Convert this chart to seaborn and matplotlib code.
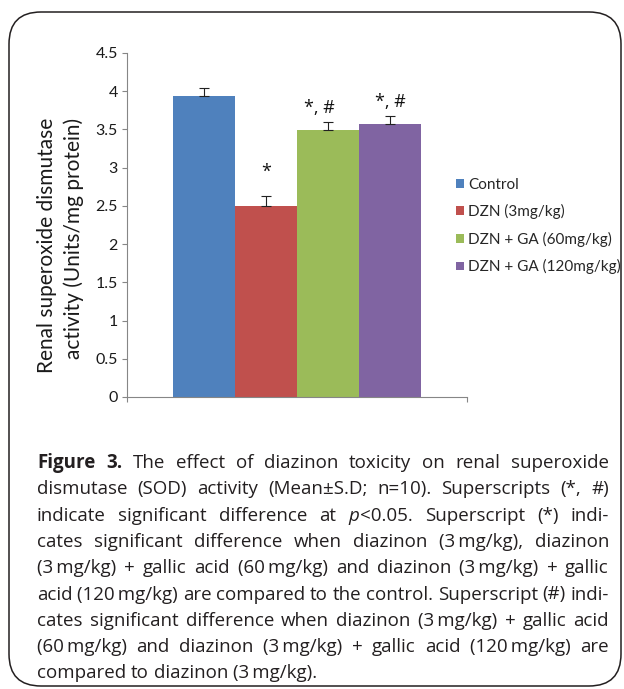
import re
import numpy as np
import pandas as pd
import matplotlib
matplotlib.use("Agg")
import matplotlib.pyplot as plt
import seaborn as sns
from matplotlib.patches import FancyBboxPatch

# Data
groups = ["Control", "DZN (3mg/kg)", "DZN + GA (60mg/kg)", "DZN + GA (120mg/kg)"]
sod_mean = [3.94, 2.50, 3.49, 3.57]
sod_sd = [0.10, 0.13, 0.11, 0.11]
sig_labels = ["", "*", "*, #", "*, #"]
colors = ["#4F81BD", "#C0504D", "#9BBB59", "#8064A2"]
y_ticks = [0, 0.5, 1, 1.5, 2, 2.5, 3, 3.5, 4, 4.5]
y_tick_labels = ["0", "0.5", "1", "1.5", "2", "2.5", "3", "3.5", "4", "4.5"]

caption_lines = [
    "**Figure** **3.** The effect of diazinon toxicity on renal superoxide",
    "dismutase (SOD) activity (Mean\u00b1S.D; n=10). Superscripts (*, #)",
    "indicate significant difference at _p_<0.05. Superscript (*) indi-",
    "cates significant difference when diazinon (3\u2009mg/kg), diazinon",
    "(3\u2009mg/kg) + gallic acid (60\u2009mg/kg) and diazinon (3\u2009mg/kg) + gallic",
    "acid (120\u2009mg/kg) are compared to the control. Superscript (#) indi-",
    "cates significant difference when diazinon (3\u2009mg/kg) + gallic acid",
    "(60\u2009mg/kg) and diazinon (3\u2009mg/kg) + gallic acid (120\u2009mg/kg) are",
    "compared to diazinon (3\u2009mg/kg).",
]

W, H = 624, 689
chart_font = ["Lato", "DejaVu Sans"]
caption_font = ["Open Sans", "DejaVu Sans"]

sns.set_style("white")
plt.rcParams["font.family"] = chart_font

fig = plt.figure(figsize=(W / 100, H / 100), dpi=100)
ax = fig.add_axes([127 / W, 1 - 397 / H, 340 / W, 344 / H])

df = pd.DataFrame({"x": [""] * len(groups), "group": groups, "value": sod_mean})
sns.barplot(data=df, x="x", y="value", hue="group", hue_order=groups,
            palette=colors, saturation=1, width=0.73, errorbar=None,
            linewidth=0, ax=ax)

# error bars (upper only) and significance marks
centers = [c.patches[0].get_x() + c.patches[0].get_width() / 2 for c in ax.containers]
ax.errorbar(centers, sod_mean, yerr=[np.zeros(len(sod_sd)), sod_sd], fmt="none",
            ecolor="#222222", elinewidth=0.8, capsize=3.5, capthick=0.8)
label_offsets = [(0, 0), (0, 14), (-6, 6), (0, 6)]
for cx, m, s, lab, off in zip(centers, sod_mean, sod_sd, sig_labels, label_offsets):
    if lab:
        ax.annotate(lab, (cx, m + s), xytext=off, textcoords="offset points",
                    ha="center", va="baseline", fontsize=13, color="#111111",
                    family=["Open Sans", "DejaVu Sans"])

ax.set_xlim(-0.5, 0.5)
ax.set_ylim(0, 4.5)
ax.set_yticks(y_ticks)
ax.set_yticklabels(y_tick_labels, fontsize=11.5, color="#1a1a1a")
ax.set_xticks([-0.5, 0.5])
ax.set_xticklabels(["", ""])
ax.set_xlabel("")
ax.set_ylabel("")
for side in ["top", "right"]:
    ax.spines[side].set_visible(False)
for side in ["left", "bottom"]:
    ax.spines[side].set_color("#868686")
    ax.spines[side].set_linewidth(0.8)
ax.tick_params(axis="both", direction="out", length=3.6, width=0.8, color="#868686",
               left=True, bottom=True, pad=3)

# y label, two lines aligned at top end
fig.text(47 / W, 1 - 118 / H, "Renal superoxide dismutase", rotation=90,
         ha="center", va="top", fontsize=15, color="#1a1a1a")
fig.text(74 / W, 1 - 118 / H, "activity (Units/mg protein)", rotation=90,
         ha="center", va="top", fontsize=15, color="#1a1a1a")

# legend
handles, _ = ax.get_legend_handles_labels()
ax.legend(handles, groups, loc="center left", bbox_to_anchor=(456 / W, 1 - 226 / H),
          bbox_transform=fig.transFigure, frameon=False, fontsize=11,
          handlelength=0.52, handleheight=0.52, handletextpad=0.28,
          labelspacing=0.82, borderpad=0, borderaxespad=0)

# caption, justified
renderer = fig.canvas.get_renderer()
cap_size = 13.5
x0, x1 = 37, 609
first_base = 468
leading = 26.3


def parse_word(word):
    runs = []
    for part in re.split(r"(\*\*[^*]+\*\*|_[^_]+_)", word):
        if not part:
            continue
        if part.startswith("**") and part.endswith("**") and len(part) > 4:
            runs.append((part[2:-2], {"weight": "bold"}))
        elif part.startswith("_") and part.endswith("_") and len(part) > 2:
            runs.append((part[1:-1], {"style": "italic"}))
        else:
            runs.append((part, {}))
    return runs


def run_width(s, props):
    t = fig.text(0, 0, s, fontsize=cap_size, family=caption_font, **props)
    w = t.get_window_extent(renderer).width
    t.remove()
    return w


space_w = run_width("a a", {}) - run_width("aa", {})
for i, line in enumerate(caption_lines):
    words = [parse_word(w) for w in line.split(" ")]
    widths = [[run_width(s, p) for s, p in runs] for runs in words]
    totals = [sum(w) for w in widths]
    if i < len(caption_lines) - 1 and len(words) > 1:
        gap = (x1 - x0 - sum(totals)) / (len(words) - 1)
    else:
        gap = space_w
    y = 1 - (first_base + i * leading) / H
    x = x0
    for runs, ws in zip(words, widths):
        for (s, p), w in zip(runs, ws):
            fig.text(x / W, y, s, fontsize=cap_size, family=caption_font,
                     va="baseline", ha="left", color="#231f20", **p)
            x += w
        x += gap

# rounded frame
frame = FancyBboxPatch((0.09, 0.03), 6.12, 6.74,
                       boxstyle="round,pad=0,rounding_size=0.32",
                       transform=fig.dpi_scale_trans, fill=False,
                       edgecolor="#231f20", linewidth=1.1)
fig.add_artist(frame)

fig.savefig("out.png", dpi=100)
